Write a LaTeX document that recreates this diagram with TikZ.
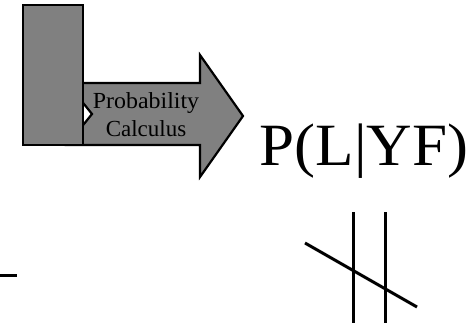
\documentclass[tikz,border=0pt]{standalone}
\usepackage{fontspec}
\setmainfont{Liberation Serif}
\usepackage{graphicx}
\begin{document}
\begin{tikzpicture}[x=1pt,y=-1pt,
  shapegray/.style={fill={rgb,255:red,128;green,128;blue,128},draw=black,line width=2.2pt,line join=miter},
  stroke/.style={draw=black,line width=3pt}]
\useasboundingbox (0,0) rectangle (476,323);
% notched arrow (tail hidden behind the bar)
\draw[shapegray] (67,83) -- (200,83) -- (200,55) -- (243,116) -- (200,177) -- (200,145) -- (67,145) -- (92,114) -- cycle;
% vertical bar
\draw[shapegray] (23,5) rectangle (83,145);
% arrow label
\node[font=\fontsize{23}{28}\selectfont, align=center, inner sep=0pt] (lab) at (146,115) {\scalebox{1.04}[1]{Probability}\\Calculus};
% formula
\node[font=\fontsize{60}{66}\selectfont, inner sep=0pt, anchor=base] (formula) at (364,165) {\scalebox{1.05}[1]{P(L|YF)}};
% stroke symbol
\coordinate (v1t) at (353,212); \coordinate (v1b) at (353,325);
\coordinate (v2t) at (385,212); \coordinate (v2b) at (385,325);
\coordinate (dA) at (305,243); \coordinate (dB) at (417,307);
\draw[stroke] (v1t) -- (v1b);
\draw[stroke] (v2t) -- (v2b);
\draw[stroke] (dA) -- (dB);
% short dash at left
\coordinate (hA) at (-2,275); \coordinate (hB) at (17,275);
\draw[stroke] (hA) -- (hB);
\end{tikzpicture}
\end{document}
